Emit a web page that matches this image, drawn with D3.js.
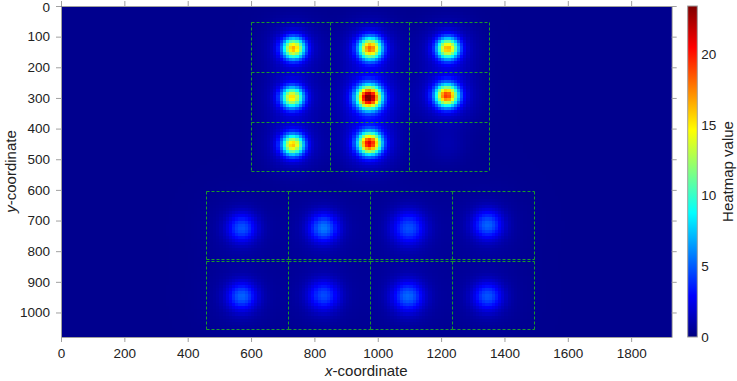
<!DOCTYPE html>
<html>
<head>
<meta charset="utf-8" />
<script src="https://d3js.org/d3.v7.min.js"></script>
<style>
  body { margin: 0; background: #fff; }
  text { font-family: "Liberation Sans", Arial, sans-serif; fill: #222; }
</style>
</head>
<body>
<div id="chart"></div>
<script>

// --- data (image coordinates) ---
// spot centres, peak heights and spread
var spotX      = [734, 976, 1221, 730, 972, 1218, 732, 974, 1220,  571, 829, 1097, 1347,  571, 829, 1095, 1347];
var spotY      = [138, 138, 138,  298, 298, 292,  453, 448, 455,   724, 724, 724,  714,   948, 945, 948,  948];
var spotPeak   = [14.5, 16, 14.5, 13.5, 21.5, 17, 14, 18.5, 0.6,   4.0, 4.8, 3.9,  4.3,   4.3, 3.8, 4.4,  4.0];
var spotSigma  = [24,  25,  24,   24,  26,  25,   24,  25,  40,    32,  32,  36,   32,    32,  34,  34,   32];
var haloShare  = 0.12;   // broad faint halo around each spot
var haloScale  = 2.4;
var background = 0.35;

// dashed boxes: upper 3x3 block and lower 2x4 block
var upperBoxX = [600, 850, 1100];
var upperBoxY = [53, 215, 377];
var upperBoxW = 250, upperBoxH = 162;
var lowerBoxX = [458, 717, 976, 1235];
var lowerBoxY = [604, 832];
var lowerBoxW = 259, lowerBoxH = 222;

var xTicks = [0, 200, 400, 600, 800, 1000, 1200, 1400, 1600, 1800];
var yTicks = [0, 100, 200, 300, 400, 500, 600, 700, 800, 900, 1000];
var cTicks = [0, 5, 10, 15, 20];
var xMax = 1928, yMax = 1080, cMax = 23.4;
var binSize = 10;

// --- layout ---
var W = 737, H = 381;
var svg = d3.select("#chart").append("svg")
  .attr("width", W).attr("height", H);

var x = d3.scaleLinear().domain([0, xMax]).range([61, 671.7]);
var y = d3.scaleLinear().domain([0, yMax]).range([6, 337]);

// jet colour map
var jetStops = [0, 0.125, 0.375, 0.625, 0.875, 1];
var color = d3.scaleLinear()
  .domain(jetStops.map(function(t) { return t * cMax; }))
  .range(["#00007f", "#0000ff", "#00ffff", "#ffff00", "#ff0000", "#7f0000"])
  .clamp(true);

// build the grid of cells from the spot list
var cells = [];
for (var gx = 0; gx < xMax; gx += binSize) {
  for (var gy = 0; gy < yMax; gy += binSize) {
    var cx = gx + binSize / 2, cy = gy + binSize / 2;
    var v = background;
    for (var k = 0; k < spotX.length; k++) {
      var dx = cx - spotX[k], dy = cy - spotY[k];
      var r2 = dx * dx + dy * dy, s = spotSigma[k], sh = s * haloScale;
      v += spotPeak[k] * Math.exp(-r2 / (2 * s * s));
      v += spotPeak[k] * haloShare * Math.exp(-r2 / (2 * sh * sh));
    }
    cells.push({x: gx, y: gy, v: v});
  }
}

var heat = svg.append("g").attr("shape-rendering", "crispEdges");
heat.selectAll("rect")
  .data(cells)
  .enter().append("rect")
    .attr("x", function(d) { return x(d.x); })
    .attr("y", function(d) { return y(d.y); })
    .attr("width", function(d) { return Math.min(x(d.x + binSize), x(xMax)) - x(d.x) + 0.4; })
    .attr("height", function(d) { return Math.min(y(d.y + binSize), y(yMax)) - y(d.y) + 0.4; })
    .style("fill", function(d) { return color(d.v); });

// dashed region boxes, drawn as de-duplicated edges
var segs = {};
function addBox(bx, by, bw, bh) {
  var x0 = Math.round(x(bx)) + 0.5, x1 = Math.round(x(bx + bw)) + 0.5;
  var y0 = Math.round(y(by)) + 0.5, y1 = Math.round(y(by + bh)) + 0.5;
  [[x0, y0, x1, y0], [x0, y1, x1, y1], [x0, y0, x0, y1], [x1, y0, x1, y1]].forEach(function(s) {
    segs[s.join(",")] = s;
  });
}
upperBoxY.forEach(function(by) {
  upperBoxX.forEach(function(bx) { addBox(bx, by, upperBoxW, upperBoxH); });
});
lowerBoxY.forEach(function(by) {
  lowerBoxX.forEach(function(bx) { addBox(bx, by, lowerBoxW, lowerBoxH); });
});
svg.append("g").selectAll("line")
  .data(Object.values(segs))
  .enter().append("line")
    .attr("x1", function(d) { return d[0]; })
    .attr("y1", function(d) { return d[1]; })
    .attr("x2", function(d) { return d[2]; })
    .attr("y2", function(d) { return d[3]; })
    .style("stroke", "#1a9a2a")
    .style("stroke-width", 1)
    .style("stroke-dasharray", "3,2");

// axes (box with outward ticks on all four sides)
function styleAxis(g) {
  g.select(".domain").attr("stroke", "#a0a0a0");
  g.selectAll(".tick line").attr("stroke", "#a0a0a0");
  g.selectAll(".tick text").style("font-size", "13.5px").attr("fill", "#222")
    .style("font-family", "'Liberation Sans', Arial, sans-serif");
}
var fmt = d3.format("d");
svg.append("g").attr("transform", "translate(0," + y(yMax) + ")")
  .call(d3.axisBottom(x).tickValues(xTicks).tickFormat(fmt).tickSize(5).tickSizeOuter(0).tickPadding(6))
  .call(styleAxis);
svg.append("g").attr("transform", "translate(0," + y(0) + ")")
  .call(d3.axisTop(x).tickValues(xTicks).tickSize(5).tickSizeOuter(0).tickFormat(""))
  .call(styleAxis);
var yAxis = svg.append("g").attr("transform", "translate(" + x(0) + ",0)")
  .call(d3.axisLeft(y).tickValues(yTicks).tickFormat(fmt).tickSize(5).tickSizeOuter(0).tickPadding(6))
  .call(styleAxis);
// keep the top "0" inside the picture
yAxis.selectAll(".tick text").filter(function(d) { return d === 0; }).attr("dy", "0.42em");
svg.append("g").attr("transform", "translate(" + x(xMax) + ",0)")
  .call(d3.axisRight(y).tickValues(yTicks).tickSize(5).tickSizeOuter(0).tickFormat(""))
  .call(styleAxis);

// axis labels
var xl = svg.append("text")
  .attr("x", (x(0) + x(xMax)) / 2).attr("y", 376)
  .attr("text-anchor", "middle").style("font-size", "15px");
xl.append("tspan").style("font-style", "italic").text("x");
xl.append("tspan").text("-coordinate");

var yl = svg.append("text")
  .attr("transform", "translate(16," + ((y(0) + y(yMax)) / 2) + ") rotate(-90)")
  .attr("text-anchor", "middle").style("font-size", "15px");
yl.append("tspan").style("font-style", "italic").text("y");
yl.append("tspan").text("-coordinate");

// colour bar
var cb = d3.scaleLinear().domain([0, cMax]).range([337, 6]);
var grad = svg.append("defs").append("linearGradient")
  .attr("id", "jet").attr("x1", 0).attr("y1", 1).attr("x2", 0).attr("y2", 0);
d3.range(0, 1.0001, 0.025).forEach(function(t) {
  grad.append("stop").attr("offset", t).attr("stop-color", color(t * cMax));
});
svg.append("rect")
  .attr("x", 687.7).attr("y", cb(cMax))
  .attr("width", 9.6).attr("height", cb(0) - cb(cMax))
  .style("fill", "url(#jet)")
  .style("stroke", "#a0a0a0").style("stroke-width", 1);

var cAxis = svg.append("g").attr("transform", "translate(697.3,0)")
  .call(d3.axisRight(cb).tickValues(cTicks).tickSize(0).tickPadding(4))
  .call(styleAxis);
cAxis.select(".domain").remove();

svg.append("text")
  .attr("transform", "translate(733," + ((cb(0) + cb(cMax)) / 2) + ") rotate(-90)")
  .attr("text-anchor", "middle").style("font-size", "15px")
  .text("Heatmap value");

</script>
</body>
</html>
